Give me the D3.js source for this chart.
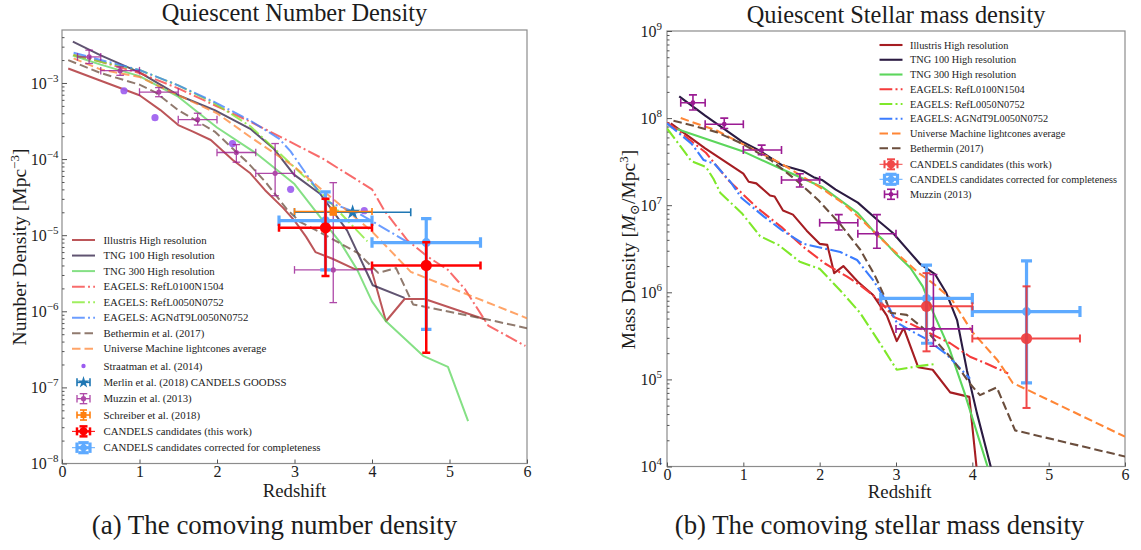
<!DOCTYPE html>
<html>
<head>
<meta charset="utf-8">
<title>Quiescent galaxy densities</title>
<script src="https://cdn.jsdelivr.net/npm/d3@7/dist/d3.min.js"></script>
<style>
  html, body { margin: 0; padding: 0; background: #fff; }
  svg { display: block; }
  text { font-family: "Liberation Serif", "Times New Roman", "DejaVu Serif", serif; fill: #1c1c1c; }
</style>
</head>
<body>
<svg id="fig" width="1141" height="550"></svg>
<script>
// ---------------- shared axis values ----------------
const redshiftTicks = [0, 1, 2, 3, 4, 5, 6];
const numberDecades = [1e-8, 1e-7, 1e-6, 1e-5, 1e-4, 1e-3];
const massDecades = [1e4, 1e5, 1e6, 1e7, 1e8, 1e9];

// ---------------- panel (a): number density [Mpc^-3] ----------------
const nIllustrisZ = [0.08, 0.5, 1.0, 1.27, 1.5, 1.69, 1.92, 2.2, 2.43, 2.62, 2.85, 3.0, 3.15, 3.27, 3.49, 3.77, 3.99, 4.18, 4.42, 4.68, 5.46];
const nIllustris  = [1.55e-3, 1.07e-3, 6.9e-4, 4.4e-4, 2.8e-4, 2.3e-4, 1.78e-4, 9.8e-5, 6.5e-5, 3.9e-5, 2.3e-5, 1.55e-5, 9.5e-6, 6.0e-6, 4.9e-6, 3.6e-6, 3.6e-6, 7.4e-7, 1.45e-6, 1.45e-6, 7.8e-7];
const nTng100Z = [0.14, 0.5, 1.0, 1.5, 1.97, 2.43, 2.73, 2.99, 3.33, 3.68, 4.01, 4.42];
const nTng100  = [3.5e-3, 2.3e-3, 1.38e-3, 6.9e-4, 4.4e-4, 2.5e-4, 1.38e-4, 6.3e-5, 3.5e-5, 1.15e-5, 2.2e-6, 1.5e-6];
const nTng300Z = [0.14, 0.5, 1.0, 1.5, 2.0, 2.5, 3.0, 3.4, 3.6, 3.81, 4.0, 4.18, 4.66, 4.98, 5.24];
const nTng300  = [2.3e-3, 1.74e-3, 1.23e-3, 6.6e-4, 2.6e-4, 1.2e-4, 4.7e-5, 1.41e-5, 7.8e-6, 3.5e-6, 1.35e-6, 7.4e-7, 2.6e-7, 1.86e-7, 3.6e-8];
const nRef100Z = [0.15, 0.5, 1.0, 1.5, 1.97, 2.43, 2.9, 3.36, 4.0, 4.16, 4.46, 4.72, 4.98, 5.2, 5.5, 5.98];
const nRef100  = [2.34e-3, 1.9e-3, 1.35e-3, 8.5e-4, 5.1e-4, 3.1e-4, 1.78e-4, 1.02e-4, 4.0e-5, 2.1e-5, 8.5e-6, 5.2e-6, 3.5e-6, 1.95e-6, 6.5e-7, 3.5e-7];
const nRef50Z = [0.15, 0.5, 1.0, 1.5, 1.97, 2.43, 2.95, 3.3, 3.94];
const nRef50  = [2.34e-3, 1.9e-3, 1.48e-3, 9.3e-4, 5.4e-4, 2.7e-4, 8.7e-5, 4.0e-5, 8.3e-6];
const nAgnZ = [0.15, 0.5, 1.0, 1.5, 1.97, 2.43, 2.8, 2.95, 3.2, 3.4, 3.82, 3.99, 4.46];
const nAgn  = [2.5e-3, 2.0e-3, 1.48e-3, 9.3e-4, 5.6e-4, 3.2e-4, 1.86e-4, 1.26e-4, 5.4e-5, 2.8e-5, 1.95e-5, 1.55e-5, 8.1e-6];
const nBethZ = [0.08, 0.5, 1.0, 1.2, 1.5, 1.97, 2.4, 2.64, 2.9, 3.07, 3.36, 3.82, 4.08, 4.31, 4.53, 5.49, 6.0];
const nBeth  = [2.0e-3, 1.35e-3, 9.5e-4, 7.6e-4, 4.4e-4, 2.3e-4, 8.9e-5, 4.8e-5, 2.2e-5, 1.5e-5, 1.05e-5, 5.8e-6, 3.2e-6, 3.7e-6, 1.23e-6, 7.8e-7, 6.0e-7];
const nUmZ = [0.15, 0.5, 1.0, 1.5, 2.0, 2.43, 3.0, 3.36, 4.0, 4.5, 6.0];
const nUm  = [2.1e-3, 1.5e-3, 1.2e-3, 6.9e-4, 4.0e-4, 1.95e-4, 7.9e-5, 3.9e-5, 1.12e-5, 3.3e-6, 8.1e-7];

const straatmanZ = [0.8, 1.2, 2.2, 2.95, 3.9];
const straatmanN = [7.9e-4, 3.5e-4, 1.6e-4, 4.0e-5, 2.1e-5];

const merlinZ = [3.75], merlinZlo = [3.0], merlinZhi = [4.5];
const merlinN = [2.0e-5];

const muzzinNZ   = [0.35, 0.75, 1.25, 1.75, 2.25, 2.75, 3.5];
const muzzinNZlo = [0.2, 0.5, 1.0, 1.5, 2.0, 2.5, 3.0];
const muzzinNZhi = [0.5, 1.0, 1.5, 2.0, 2.5, 3.0, 4.0];
const muzzinN    = [2.2e-3, 1.45e-3, 7.6e-4, 3.3e-4, 1.22e-4, 6.5e-5, 3.5e-6];
const muzzinNlo  = [1.8e-3, 1.26e-3, 6.6e-4, 2.8e-4, 9.1e-5, 3.3e-5, 1.3e-6];
const muzzinNhi  = [2.7e-3, 1.63e-3, 8.7e-4, 4.0e-4, 1.55e-4, 1.6e-4, 4.9e-5];

const schreiberZ = [3.5], schreiberZlo = [3.0], schreiberZhi = [4.0];
const schreiberN = [2.05e-5], schreiberNlo = [1.85e-5], schreiberNhi = [2.3e-5];

const candelsZ   = [3.4, 4.7];
const candelsZlo = [2.8, 4.0];
const candelsZhi = [4.0, 5.4];
const candelsN   = [1.25e-5, 4.0e-6];
const candelsNlo = [2.9e-6, 2.85e-7];
const candelsNhi = [3.0e-5, 8.1e-6];
const corrN   = [1.55e-5, 8.0e-6];
const corrNlo = [3.5e-6, 5.8e-7];
const corrNhi = [3.7e-5, 1.65e-5];

// ---------------- panel (b): stellar mass density [Msun/Mpc^3] ----------------
const mIllustrisZ = [0.05, 0.5, 1.0, 1.07, 1.17, 1.35, 1.41, 1.52, 1.65, 1.83, 2.0, 2.1, 2.19, 2.31, 2.5, 2.7, 2.88, 3.01, 3.1, 3.29, 3.48, 3.71, 3.96, 4.06, 4.12];
const mIllustris  = [8.7e7, 4.5e7, 2.3e7, 1.86e7, 1.78e7, 1.29e7, 1.26e7, 8.7e6, 7.8e6, 5.1e6, 3.6e6, 3.5e6, 1.66e6, 2.0e6, 1.32e6, 9.3e5, 5.4e5, 2.75e5, 3.9e5, 1.38e5, 1.29e5, 7.1e4, 6.3e4, 8.9e3, 1.0e3];
const mTng100Z = [0.16, 0.5, 0.98, 1.22, 1.5, 1.79, 1.92, 2.03, 2.21, 2.5, 2.78, 2.96, 3.31, 3.51, 3.66, 3.80, 3.93, 4.06, 4.25];
const mTng100  = [1.78e8, 1.07e8, 5.4e7, 4.2e7, 2.9e7, 2.45e7, 2.1e7, 1.95e7, 1.51e7, 1.07e7, 6.5e6, 4.8e6, 2.14e6, 1.62e6, 9.8e5, 4.8e5, 1.26e5, 4.1e4, 9.3e3];
const mTng300Z = [0.05, 0.98, 1.5, 2.03, 2.5, 2.7, 2.83, 3.0, 3.19, 3.35, 3.49, 3.70, 3.90, 4.21];
const mTng300  = [7.9e7, 4.2e7, 2.6e7, 1.62e7, 8.1e6, 5.1e6, 4.0e6, 2.75e6, 1.9e6, 1.17e6, 5.8e5, 2.24e5, 6.9e4, 9.3e3];
const mRef100Z = [0.0, 0.18, 0.51, 0.8, 1.17, 1.5, 1.79, 2.07, 2.36, 2.55, 2.78, 2.97, 3.18, 3.71, 3.97, 4.19, 4.47];
const mRef100  = [8.9e7, 6.8e7, 4.0e7, 1.95e7, 9.5e6, 5.6e6, 3.3e6, 2.14e6, 1.51e6, 1.17e6, 8.1e5, 5.2e5, 4.4e5, 2.6e5, 1.82e5, 1.51e5, 1.17e5];
const mRef50Z = [0.0, 0.18, 0.32, 0.51, 0.61, 0.7, 0.98, 1.22, 1.46, 1.74, 2.0, 2.27, 2.53, 2.79, 3.01, 3.27, 3.53];
const mRef50  = [7.6e7, 4.7e7, 3.2e7, 2.75e7, 2.0e7, 1.38e7, 8.1e6, 4.4e6, 3.5e6, 2.24e6, 1.86e6, 1.05e6, 5.8e5, 2.6e5, 1.29e5, 1.41e5, 1.51e5];
const mAgnZ = [0.0, 0.32, 0.48, 0.62, 0.83, 0.98, 1.27, 1.5, 1.79, 2.05, 2.27, 2.49, 2.70, 2.83, 3.01, 3.2, 3.4, 3.66, 3.97];
const mAgn  = [8.7e7, 5.1e7, 3.3e7, 3.0e7, 1.86e7, 1.2e7, 7.4e6, 5.2e6, 3.6e6, 3.2e6, 2.9e6, 2.35e6, 1.38e6, 9.1e5, 4.5e5, 3.6e5, 2.9e5, 1.95e5, 1.02e5];
const mUmZ = [0.18, 0.65, 0.98, 1.5, 2.03, 2.31, 2.55, 2.78, 3.02, 3.3, 3.49, 3.73, 4.0, 4.15, 4.33, 4.53, 4.72, 6.0];
const mUm  = [1.0e8, 7.2e7, 5.1e7, 3.0e7, 1.55e7, 1.05e7, 6.8e6, 4.3e6, 2.75e6, 1.66e6, 1.26e6, 8.3e5, 3.5e5, 2.5e5, 1.66e5, 9.1e4, 7.6e4, 2.2e4];
const mBethZ = [0.085, 0.32, 0.65, 0.98, 1.36, 1.69, 1.98, 2.26, 2.53, 2.72, 2.85, 2.93, 3.14, 3.40, 3.75, 3.97, 4.1, 4.32, 4.56, 6.02];
const mBeth  = [9.3e7, 8.3e7, 6.9e7, 5.1e7, 3.3e7, 1.95e7, 1.15e7, 6.2e6, 3.1e6, 1.58e6, 8.9e5, 5.8e5, 5.5e5, 3.6e5, 1.66e5, 8.9e4, 6.6e4, 8.1e4, 2.6e4, 1.29e4];

const muzzinMZ   = [0.34, 0.75, 1.24, 1.74, 2.25, 2.75, 3.49];
const muzzinMZlo = [0.18, 0.5, 1.0, 1.5, 2.0, 2.5, 3.0];
const muzzinMZhi = [0.5, 1.0, 1.5, 2.0, 2.5, 3.0, 4.0];
const muzzinM    = [1.5e8, 8.5e7, 4.3e7, 1.95e7, 6.3e6, 4.7e6, 3.8e5];
const muzzinMlo  = [1.24e8, 7.6e7, 3.8e7, 1.62e7, 5.2e6, 3.2e6, 2.4e5];
const muzzinMhi  = [1.85e8, 1.0e8, 4.9e7, 2.3e7, 7.8e6, 7.8e6, 1.6e6];

const candelsMZ   = [3.4, 4.71];
const candelsMZlo = [2.8, 4.0];
const candelsMZhi = [4.0, 5.41];
const candelsM    = [6.9e5, 2.95e5];
const candelsMlo  = [2.1e5, 4.7e4];
const candelsMhi  = [1.66e6, 1.17e6];
const corrM   = [8.5e5, 6.0e5];
const corrMlo = [2.6e5, 9.1e4];
const corrMhi = [2.05e6, 2.3e6];

// ---------------- legend labels ----------------
const legendLabelsA = [
  "Illustris High resolution", "TNG 100 High resolution", "TNG 300 High resolution",
  "EAGELS: RefL0100N1504", "EAGELS: RefL0050N0752", "EAGELS: AGNdT9L0050N0752",
  "Bethermin et al. (2017)", "Universe Machine lightcones average",
  "Straatman et al. (2014)", "Merlin et al. (2018) CANDELS GOODSS", "Muzzin et al. (2013)",
  "Schreiber et al. (2018)", "CANDELS candidates (this work)", "CANDELS candidates corrected for completeness"
];
const legendLabelsB = [
  "Illustris High resolution", "TNG 100 High resolution", "TNG 300 High resolution",
  "EAGELS: RefL0100N1504", "EAGELS: RefL0050N0752", "EAGELS: AGNdT9L0050N0752",
  "Universe Machine lightcones average", "Bethermin (2017)",
  "CANDELS candidates (this work)", "CANDELS candidates corrected for completeness", "Muzzin (2013)"
];

// ---------------- styles ----------------
const DASHDOT = "12.8,3.2,2,3.2";
const DASHED = "8.5,4";
const lineStyle = {
  illustris: { color: "#a51d22" },
  tng100:    { color: "#2b1b42" },
  tng300:    { color: "#5cd65c" },
  ref100:    { color: "#f53b3b", dash: DASHDOT },
  ref50:     { color: "#7fe82a", dash: DASHDOT },
  agn:       { color: "#3b7cff", dash: DASHDOT },
  beth:      { color: "#6b4e3d", dash: DASHED },
  um:        { color: "#ff8636", dash: DASHED }
};
const C = {
  straatman: "#9b5cf0", merlin: "#1f77b4", muzzin: "#9b1b93",
  schreiber: "#ff7f0e", candels: "#ff0000", candelsB: "#f03535", corr: "#5eaaff"
};

// ---------------- figure ----------------
const svg = d3.select("#fig");
const PA = { left: 62, right: 527, top: 30, bottom: 463.5 };
const PB = { left: 667, right: 1125, top: 31, bottom: 466.5 };

const xA = d3.scaleLinear().domain([0, 6]).range([PA.left, PA.right]);
const yA = d3.scaleLog().domain([1e-8, Math.pow(10, -2.304)]).range([PA.bottom, PA.top]);
const xB = d3.scaleLinear().domain([0, 6]).range([PB.left, PB.right]);
const yB = d3.scaleLog().domain([1e4, 1e9]).range([PB.bottom, PB.top]);

const defs = svg.append("defs");
function clip(id, P) {
  defs.append("clipPath").attr("id", id).append("rect")
    .attr("x", P.left).attr("y", P.top).attr("width", P.right - P.left).attr("height", P.bottom - P.top);
}
clip("clipA", PA); clip("clipB", PB);

function drawLine(g, x, y, zs, vs, st, lw, op) {
  const line = d3.line().x(d => x(d[0])).y(d => y(d[1]));
  g.append("path")
    .attr("d", line(zs.map((z, i) => [z, vs[i]])))
    .attr("fill", "none")
    .attr("stroke", st.color)
    .attr("stroke-width", lw)
    .attr("stroke-opacity", op)
    .attr("stroke-linejoin", "round")
    .attr("stroke-dasharray", st.dash || null);
}

function drawErrorbars(g, x, y, d, s) {
  const grp = g.append("g").attr("stroke", s.color).attr("fill", s.color).attr("opacity", s.opacity == null ? 1 : s.opacity);
  d.z.forEach((z, i) => {
    const cx = x(z), cy = y(d.v[i]);
    if (d.zlo) {
      const xl = x(d.zlo[i]), xh = x(d.zhi[i]);
      grp.append("line").attr("x1", xl).attr("x2", xh).attr("y1", cy).attr("y2", cy).attr("stroke-width", s.lw);
      [xl, xh].forEach(xe => grp.append("line").attr("x1", xe).attr("x2", xe)
        .attr("y1", cy - s.cap).attr("y2", cy + s.cap).attr("stroke-width", s.lw));
    }
    if (d.vlo) {
      const yl = y(d.vlo[i]), yh = y(d.vhi[i]);
      grp.append("line").attr("x1", cx).attr("x2", cx).attr("y1", yl).attr("y2", yh).attr("stroke-width", s.lw);
      [yl, yh].forEach(ye => grp.append("line").attr("y1", ye).attr("y2", ye)
        .attr("x1", cx - s.cap).attr("x2", cx + s.cap).attr("stroke-width", s.lw));
    }
    drawMarker(grp, cx, cy, s);
  });
}

function drawMarker(g, cx, cy, s) {
  if (s.marker === "star" || s.marker === "square") {
    const type = s.marker === "star" ? d3.symbolStar : d3.symbolSquare;
    g.append("path").attr("d", d3.symbol().type(type).size(s.size)())
      .attr("transform", `translate(${cx},${cy})`).attr("stroke", "none");
  } else if (s.r) {
    g.append("circle").attr("cx", cx).attr("cy", cy).attr("r", s.r).attr("stroke", "none");
  }
}

function superscriptLabel(t, base, exp) {
  t.text(null);
  t.append("tspan").text(base);
  t.append("tspan").attr("dy", -7).attr("font-size", 11).text(exp);
}

function drawAxes(g, x, y, P, decades, pad) {
  g.append("rect").attr("x", P.left).attr("y", P.top)
    .attr("width", P.right - P.left).attr("height", P.bottom - P.top)
    .attr("fill", "none").attr("stroke", "#8c8c8c").attr("stroke-width", 1.2);

  const gx = g.append("g").attr("transform", `translate(0,${P.bottom})`)
    .call(d3.axisBottom(x).tickValues(redshiftTicks).tickFormat(d3.format("d"))
      .tickSize(-4).tickSizeOuter(0).tickPadding(2));
  gx.select(".domain").remove();
  gx.attr("font-size", 16).attr("font-family", null).attr("color", "#555");

  const minors = [];
  decades.forEach(d => { for (let k = 2; k < 10; k++) { const v = d * k; if (v <= y.domain()[1] * 1.0001) minors.push(v); } });
  const gm = g.append("g").attr("transform", `translate(${P.left},0)`)
    .call(d3.axisLeft(y).tickValues(minors).tickFormat("").tickSize(-2.5).tickSizeOuter(0));
  gm.select(".domain").remove();
  gm.attr("color", "#555");

  const gy = g.append("g").attr("transform", `translate(${P.left},0)`)
    .call(d3.axisLeft(y).tickValues(decades).tickFormat("").tickSize(-5).tickSizeOuter(0).tickPadding(pad));
  gy.select(".domain").remove();
  gy.attr("font-size", 16).attr("font-family", null).attr("color", "#555");
  gy.selectAll(".tick text").each(function (d) {
    const e = Math.round(Math.log10(d));
    superscriptLabel(d3.select(this), "10", (e < 0 ? "\u2212" : "") + Math.abs(e));
  });
}

function legend(g, labels, handles, x0, textX, rowY, fs) {
  labels.forEach((lab, i) => {
    const cy = rowY(i), h = handles[i];
    const hg = g.append("g");
    if (h.type === "line") {
      hg.append("line").attr("x1", x0).attr("x2", x0 + 23).attr("y1", cy).attr("y2", cy)
        .attr("stroke", h.st.color).attr("stroke-width", h.lw).attr("stroke-opacity", h.op)
        .attr("stroke-dasharray", h.st.dash || null);
    } else if (h.type === "dot") {
      hg.append("circle").attr("cx", x0 + 11.5).attr("cy", cy).attr("r", 2.2).attr("fill", h.s.color);
    } else {
      const s = h.s, cx = x0 + 11.5, eg = hg.append("g").attr("stroke", s.color).attr("fill", s.color)
        .attr("opacity", s.opacity == null ? 1 : s.opacity);
      if (h.through) eg.append("line").attr("x1", x0).attr("x2", x0 + 23).attr("y1", cy).attr("y2", cy).attr("stroke-width", 1);
      const hx = 6.5, hy = h.noY ? 0 : 5;
      eg.append("line").attr("x1", cx - hx).attr("x2", cx + hx).attr("y1", cy).attr("y2", cy).attr("stroke-width", s.lw);
      [cx - hx, cx + hx].forEach(xe => eg.append("line").attr("x1", xe).attr("x2", xe)
        .attr("y1", cy - s.cap).attr("y2", cy + s.cap).attr("stroke-width", s.lw));
      if (hy) {
        eg.append("line").attr("x1", cx).attr("x2", cx).attr("y1", cy - hy).attr("y2", cy + hy).attr("stroke-width", s.lw);
        [cy - hy, cy + hy].forEach(ye => eg.append("line").attr("y1", ye).attr("y2", ye)
          .attr("x1", cx - s.cap).attr("x2", cx + s.cap).attr("stroke-width", s.lw));
      }
      drawMarker(eg, cx, cy, Object.assign({}, s, { r: s.legendR == null ? s.r : s.legendR, size: s.legendSize || s.size }));
    }
    g.append("text").attr("x", textX).attr("y", cy + 3.6).attr("font-size", fs).text(lab);
  });
}

// ================= panel (a) =================
const gA = svg.append("g");
drawAxes(gA, xA, yA, PA, numberDecades, 3.5);
const plotA = gA.append("g").attr("clip-path", "url(#clipA)");
const opA = 0.75, lwA = 2;
drawLine(plotA, xA, yA, nIllustrisZ, nIllustris, lineStyle.illustris, lwA, opA);
drawLine(plotA, xA, yA, nTng100Z, nTng100, lineStyle.tng100, lwA, opA);
drawLine(plotA, xA, yA, nTng300Z, nTng300, lineStyle.tng300, lwA, opA);
drawLine(plotA, xA, yA, nRef100Z, nRef100, lineStyle.ref100, lwA, opA);
drawLine(plotA, xA, yA, nRef50Z, nRef50, lineStyle.ref50, lwA, opA);
drawLine(plotA, xA, yA, nAgnZ, nAgn, lineStyle.agn, lwA, opA);
drawLine(plotA, xA, yA, nBethZ, nBeth, lineStyle.beth, lwA, opA);
drawLine(plotA, xA, yA, nUmZ, nUm, lineStyle.um, lwA, opA);

plotA.append("g").selectAll("circle").data(straatmanZ).join("circle")
  .attr("cx", d => xA(d)).attr("cy", (d, i) => yA(straatmanN[i])).attr("r", 3.6)
  .attr("fill", C.straatman).attr("opacity", 0.9);

const sMerlin = { color: C.merlin, lw: 1.6, cap: 4, marker: "star", size: 70, legendSize: 45 };
const sMuzzinA = { color: C.muzzin, lw: 1.3, cap: 3.8, r: 2.6, opacity: 0.8 };
const sSchreiber = { color: C.schreiber, lw: 1.6, cap: 3.5, marker: "square", size: 55, legendSize: 36 };
const sCorrA = { color: C.corr, lw: 3.2, cap: 5.2, r: 4.5, legendR: 3.5 };
const sCandelsA = { color: C.candels, lw: 2.5, cap: 4, r: 5.6, legendR: 4 };

drawErrorbars(plotA, xA, yA, { z: merlinZ, zlo: merlinZlo, zhi: merlinZhi, v: merlinN }, sMerlin);
drawErrorbars(plotA, xA, yA, { z: muzzinNZ, zlo: muzzinNZlo, zhi: muzzinNZhi, v: muzzinN, vlo: muzzinNlo, vhi: muzzinNhi }, sMuzzinA);
drawErrorbars(plotA, xA, yA, { z: schreiberZ, zlo: schreiberZlo, zhi: schreiberZhi, v: schreiberN, vlo: schreiberNlo, vhi: schreiberNhi }, sSchreiber);
drawErrorbars(plotA, xA, yA, { z: candelsZ, zlo: candelsZlo, zhi: candelsZhi, v: corrN, vlo: corrNlo, vhi: corrNhi }, sCorrA);
drawErrorbars(plotA, xA, yA, { z: candelsZ, zlo: candelsZlo, zhi: candelsZhi, v: candelsN, vlo: candelsNlo, vhi: candelsNhi }, sCandelsA);

const lineHandleA = st => ({ type: "line", st, lw: lwA, op: opA });
legend(gA.append("g"), legendLabelsA, [
  lineHandleA(lineStyle.illustris), lineHandleA(lineStyle.tng100), lineHandleA(lineStyle.tng300),
  lineHandleA(lineStyle.ref100), lineHandleA(lineStyle.ref50), lineHandleA(lineStyle.agn),
  lineHandleA(lineStyle.beth), lineHandleA(lineStyle.um),
  { type: "dot", s: { color: C.straatman } },
  { type: "err", s: sMerlin, noY: true },
  { type: "err", s: sMuzzinA },
  { type: "err", s: sSchreiber },
  { type: "err", s: sCandelsA, through: true },
  { type: "err", s: sCorrA, through: true }
], 72, 103.5, i => (i < 8 ? 240 + 15.55 * i : 366 + 16.34 * (i - 8)), 10.8);

gA.append("text").attr("x", 294.5).attr("y", 21).attr("text-anchor", "middle").attr("font-size", 24.4)
  .text("Quiescent Number Density");
gA.append("text").attr("x", 294.5).attr("y", 497).attr("text-anchor", "middle").attr("font-size", 18.8)
  .text("Redshift");
const ylA = gA.append("text").attr("transform", "translate(25.5,247) rotate(-90)")
  .attr("text-anchor", "middle").attr("font-size", 19.5);
ylA.append("tspan").text("Number Density [Mpc");
ylA.append("tspan").attr("dy", -7).attr("font-size", 13).text("\u22123");
ylA.append("tspan").attr("dy", 7).text("]");
gA.append("text").attr("x", 274.5).attr("y", 534).attr("text-anchor", "middle").attr("font-size", 26.9)
  .text("(a) The comoving number density");

// ================= panel (b) =================
const gB = svg.append("g");
drawAxes(gB, xB, yB, PB, massDecades, 5);
const plotB = gB.append("g").attr("clip-path", "url(#clipB)");
const opB = 1, lwB = 2.1;
drawLine(plotB, xB, yB, mIllustrisZ, mIllustris, lineStyle.illustris, lwB, opB);
drawLine(plotB, xB, yB, mTng100Z, mTng100, lineStyle.tng100, lwB, opB);
drawLine(plotB, xB, yB, mTng300Z, mTng300, lineStyle.tng300, lwB, opB);
drawLine(plotB, xB, yB, mRef100Z, mRef100, lineStyle.ref100, lwB, opB);
drawLine(plotB, xB, yB, mRef50Z, mRef50, lineStyle.ref50, lwB, opB);
drawLine(plotB, xB, yB, mAgnZ, mAgn, lineStyle.agn, lwB, opB);
drawLine(plotB, xB, yB, mUmZ, mUm, lineStyle.um, lwB, opB);
drawLine(plotB, xB, yB, mBethZ, mBeth, lineStyle.beth, lwB, opB);

const sCorrB = { color: C.corr, lw: 3.2, cap: 5.5, r: 4.5, legendR: 3.5 };
const sCandelsB = { color: C.candelsB, lw: 2, cap: 4, r: 5.6, opacity: 0.9, legendR: 4 };
const sMuzzinB = { color: C.muzzin, lw: 1.6, cap: 4, r: 2.4 };
drawErrorbars(plotB, xB, yB, { z: candelsMZ, zlo: candelsMZlo, zhi: candelsMZhi, v: corrM, vlo: corrMlo, vhi: corrMhi }, sCorrB);
drawErrorbars(plotB, xB, yB, { z: candelsMZ, zlo: candelsMZlo, zhi: candelsMZhi, v: candelsM, vlo: candelsMlo, vhi: candelsMhi }, sCandelsB);
drawErrorbars(plotB, xB, yB, { z: muzzinMZ, zlo: muzzinMZlo, zhi: muzzinMZhi, v: muzzinM, vlo: muzzinMlo, vhi: muzzinMhi }, sMuzzinB);

const lineHandleB = st => ({ type: "line", st, lw: lwB, op: opB });
legend(gB.append("g"), legendLabelsB, [
  lineHandleB(lineStyle.illustris), lineHandleB(lineStyle.tng100), lineHandleB(lineStyle.tng300),
  lineHandleB(lineStyle.ref100), lineHandleB(lineStyle.ref50), lineHandleB(lineStyle.agn),
  lineHandleB(lineStyle.um), lineHandleB(lineStyle.beth),
  { type: "err", s: sCandelsB, through: true },
  { type: "err", s: sCorrB, through: true },
  { type: "err", s: sMuzzinB }
], 879.5, 910, i => (i < 8 ? 45 + 14.76 * i : 164.3 + 15 * (i - 8)), 10.3);

gB.append("text").attr("x", 896).attr("y", 23).attr("text-anchor", "middle").attr("font-size", 24.4)
  .text("Quiescent Stellar mass density");
gB.append("text").attr("x", 899.6).attr("y", 498).attr("text-anchor", "middle").attr("font-size", 18.8)
  .text("Redshift");
const ylB = gB.append("text").attr("transform", "translate(635,249.5) rotate(-90)")
  .attr("text-anchor", "middle").attr("font-size", 19.5);
ylB.append("tspan").text("Mass Density [");
ylB.append("tspan").attr("font-style", "italic").text("M");
ylB.append("tspan").attr("dy", 4).attr("font-size", 13).text("\u2299");
ylB.append("tspan").attr("dy", -4).text("/Mpc");
ylB.append("tspan").attr("dy", -7).attr("font-size", 13).text("3");
ylB.append("tspan").attr("dy", 7).text("]");
gB.append("text").attr("x", 879.5).attr("y", 534).attr("text-anchor", "middle").attr("font-size", 26.8)
  .text("(b) The comoving stellar mass density");
</script>
</body>
</html>
